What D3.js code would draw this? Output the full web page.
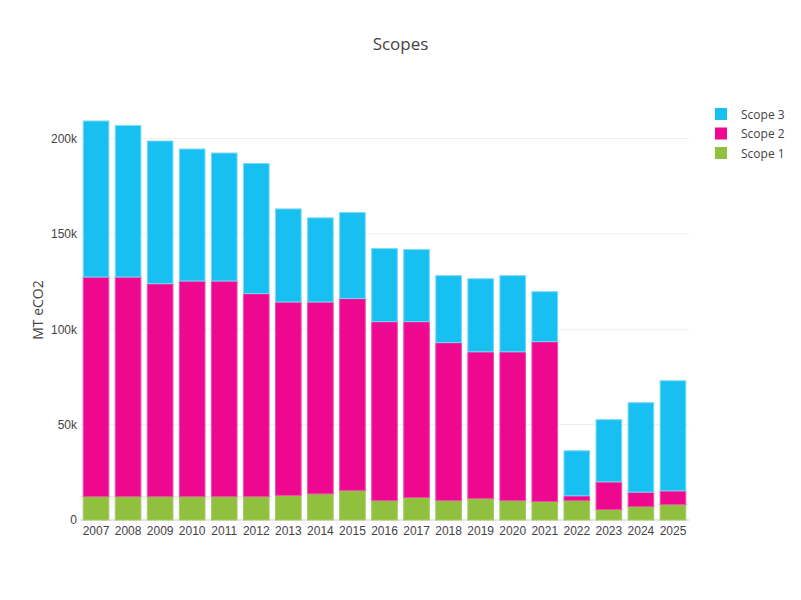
<!DOCTYPE html>
<html>
<head>
<meta charset="utf-8">
<script src="https://cdn.jsdelivr.net/npm/d3@7"></script>
<style>
  body { margin: 0; background: #fff; }
  svg { font-family: "Open Sans", "Noto Sans", sans-serif; }
</style>
</head>
<body>
<svg id="chart" width="801" height="600"></svg>
<script>
const years = ["2007","2008","2009","2010","2011","2012","2013","2014","2015","2016","2017","2018","2019","2020","2021","2022","2023","2024","2025"];
const scope1 = [12300,12300,12300,12300,12300,12300,12900,13700,15500,10200,11800,10200,11300,10200,9700,10200,5500,7100,8100];
const scope2 = [115100,115100,111600,113000,113000,106400,101400,100600,100600,93800,92200,82800,76900,78000,83800,2500,14500,7500,7200];
const scope3 = [81800,79400,74800,69200,67100,68200,48800,44100,45100,38300,37800,35100,38300,39900,26200,23600,32600,46900,57700];
const seriesNames = ["Scope 1","Scope 2","Scope 3"];
const yTicks = [0,50000,100000,150000,200000];
const yTickLabels = ["0","50k","100k","150k","200k"];

const colors = { "Scope 1": "#8fc13f", "Scope 2": "#ee088f", "Scope 3": "#18c0f2" };
const strokes = { "Scope 1": "#a3cc66", "Scope 2": "#f04fa8", "Scope 3": "#7cd8f5" };

const svg = d3.select("#chart");
const W = 801, H = 600;
const m = { l: 80, r: 112, t: 100, b: 80 };
const pw = W - m.l - m.r, ph = H - m.t - m.b;

const rows = years.map((y, i) => ({ year: y, "Scope 1": scope1[i], "Scope 2": scope2[i], "Scope 3": scope3[i] }));
const stacked = d3.stack().keys(seriesNames)(rows);

const x = d3.scaleBand().domain(years).range([m.l, m.l + pw]).paddingInner(0.2).paddingOuter(0.1);
const y = d3.scaleLinear().domain([0, 220200]).range([m.t + ph, m.t]);

// grid
const g = svg.append("g");
g.selectAll("line.grid").data(yTicks.slice(1)).join("line")
  .attr("x1", m.l).attr("x2", m.l + pw)
  .attr("y1", d => y(d)).attr("y2", d => y(d))
  .attr("stroke", "#eee").attr("stroke-width", 1);
g.append("line").attr("x1", m.l).attr("x2", m.l + pw)
  .attr("y1", y(0)).attr("y2", y(0)).attr("stroke", "#e6e6e6").attr("stroke-width", 2);

// bars
stacked.forEach(s => {
  svg.append("g").selectAll("rect").data(s).join("rect")
    .attr("x", d => x(d.data.year))
    .attr("width", x.bandwidth())
    .attr("y", d => y(d[1]))
    .attr("height", d => y(d[0]) - y(d[1]))
    .attr("fill", colors[s.key])
    .attr("stroke", strokes[s.key])
    .attr("stroke-width", 1);
});

// axes
const xAxis = d3.axisBottom(x).tickSize(0).tickPadding(6);
const xg = svg.append("g").attr("transform", `translate(0,${m.t + ph})`).call(xAxis);
xg.select(".domain").remove();
xg.selectAll("text").attr("fill", "#444").style("font-size", "12px");

const yAxis = d3.axisLeft(y).tickValues(yTicks).tickFormat((d, i) => yTickLabels[i]).tickSize(0).tickPadding(2);
const yg = svg.append("g").attr("transform", `translate(${m.l - 1},0)`).call(yAxis);
yg.select(".domain").remove();
yg.selectAll("text").attr("fill", "#444").style("font-size", "12px");

// title
svg.append("text").attr("x", W / 2).attr("y", 50).attr("text-anchor", "middle")
  .attr("fill", "#444").style("font-size", "17px").text("Scopes");

// y label
svg.append("text").attr("transform", `translate(43,${m.t + ph / 2}) rotate(-90)`)
  .attr("text-anchor", "middle").attr("fill", "#444").style("font-size", "14px").text("MT eCO2");

// legend
const legendItems = ["Scope 3", "Scope 2", "Scope 1"];
const lg = svg.append("g").selectAll("g").data(legendItems).join("g")
  .attr("transform", (d, i) => `translate(715,${108 + i * 19.5})`);
lg.append("rect").attr("width", 12).attr("height", 12).attr("fill", d => colors[d]);
lg.append("text").attr("x", 26).attr("y", 10.5).attr("fill", "#444").style("font-size", "12px").text(d => d);
</script>
</body>
</html>
